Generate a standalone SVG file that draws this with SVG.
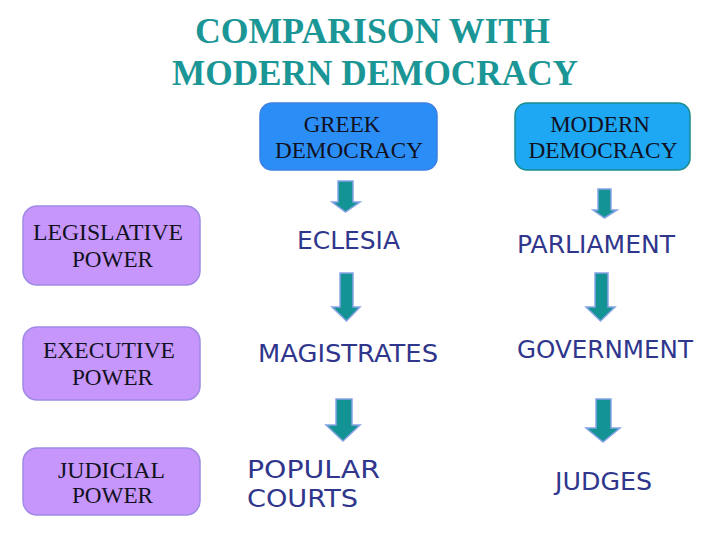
<svg xmlns="http://www.w3.org/2000/svg" width="728" height="546" viewBox="0 0 728 546">
<style>
.title{font-family:"Liberation Serif","Times New Roman",serif;font-weight:bold;font-size:36px;fill:#1a9696}
.serif{font-family:"Liberation Serif","Times New Roman",serif;font-size:23px;fill:#111122}
.sans{font-family:"DejaVu Sans","Liberation Sans",sans-serif;font-size:24px;fill:#2f368c}
.pbox{fill:#c796fa;stroke:#9f8ae6;stroke-width:1.5}
.arrow{fill:#139393;stroke:#86a2e6;stroke-width:1.5;stroke-linejoin:miter}
</style>
<rect width="728" height="546" fill="#ffffff"/>
<g id="title">
<text class="title" x="195" y="43" textLength="355" lengthAdjust="spacingAndGlyphs">COMPARISON WITH</text>
<text class="title" x="172" y="85" textLength="406" lengthAdjust="spacingAndGlyphs">MODERN DEMOCRACY</text>
</g>
<g id="greek">
<rect x="260" y="103" width="177" height="67" rx="12" fill="#2b8ef7" stroke="#3d7fe2" stroke-width="1.5"/>
<text class="serif" x="342" y="132" text-anchor="middle">GREEK</text>
<text class="serif" x="349" y="158" text-anchor="middle" textLength="148" lengthAdjust="spacingAndGlyphs">DEMOCRACY</text>
</g>
<g id="modern">
<rect x="515" y="103" width="175" height="67" rx="12" fill="#1ea7f2" stroke="#1a8c8c" stroke-width="1.5"/>
<text class="serif" x="600" y="132" text-anchor="middle">MODERN</text>
<text class="serif" x="603" y="158" text-anchor="middle" textLength="149" lengthAdjust="spacingAndGlyphs">DEMOCRACY</text>
</g>
<g id="legislative">
<rect class="pbox" x="23" y="206" width="177" height="79" rx="14"/>
<text class="serif" x="33" y="240" textLength="150" lengthAdjust="spacingAndGlyphs">LEGISLATIVE</text>
<text class="serif" x="72" y="267" textLength="81" lengthAdjust="spacingAndGlyphs">POWER</text>
</g>
<g id="executive">
<rect class="pbox" x="23" y="327" width="177" height="73" rx="14"/>
<text class="serif" x="43" y="358" textLength="132" lengthAdjust="spacingAndGlyphs">EXECUTIVE</text>
<text class="serif" x="72" y="385" textLength="81" lengthAdjust="spacingAndGlyphs">POWER</text>
</g>
<g id="judicial">
<rect class="pbox" x="23" y="448" width="177" height="67" rx="14"/>
<text class="serif" x="58" y="478" textLength="107" lengthAdjust="spacingAndGlyphs">JUDICIAL</text>
<text class="serif" x="72" y="503" textLength="81" lengthAdjust="spacingAndGlyphs">POWER</text>
</g>
<g id="eclesia"><text class="sans" x="297" y="249" textLength="103" lengthAdjust="spacingAndGlyphs">ECLESIA</text></g>
<g id="parliament"><text class="sans" x="517" y="253" textLength="158" lengthAdjust="spacingAndGlyphs">PARLIAMENT</text></g>
<g id="magistrates"><text class="sans" x="258" y="362" textLength="180" lengthAdjust="spacingAndGlyphs">MAGISTRATES</text></g>
<g id="government"><text class="sans" x="517" y="358" textLength="176" lengthAdjust="spacingAndGlyphs">GOVERNMENT</text></g>
<g id="popular-courts">
<text class="sans" x="247" y="478" textLength="133" lengthAdjust="spacingAndGlyphs">POPULAR</text>
<text class="sans" x="247" y="507" textLength="111" lengthAdjust="spacingAndGlyphs">COURTS</text>
</g>
<g id="judges"><text class="sans" x="555" y="490" textLength="97" lengthAdjust="spacingAndGlyphs">JUDGES</text></g>
<g id="connectors">
<polygon class="arrow" points="338,181 353,181 353,202 360,202 345.5,212 332,202 338,202"/>
<polygon class="arrow" points="598,189 611,189 611,210 617,210 604.5,218 593,210 598,210"/>
<polygon class="arrow" points="340,273 353,273 353,307 360,307 346.5,321 332,307 340,307"/>
<polygon class="arrow" points="595,273 608,273 608,307 615,307 600.5,321 586,307 595,307"/>
<polygon class="arrow" points="336,399 352,399 352,425 360,425 343,441 326,425 336,425"/>
<polygon class="arrow" points="596,399 611,399 611,428 620,428 603,442 586,428 596,428"/>
</g>
</svg>
